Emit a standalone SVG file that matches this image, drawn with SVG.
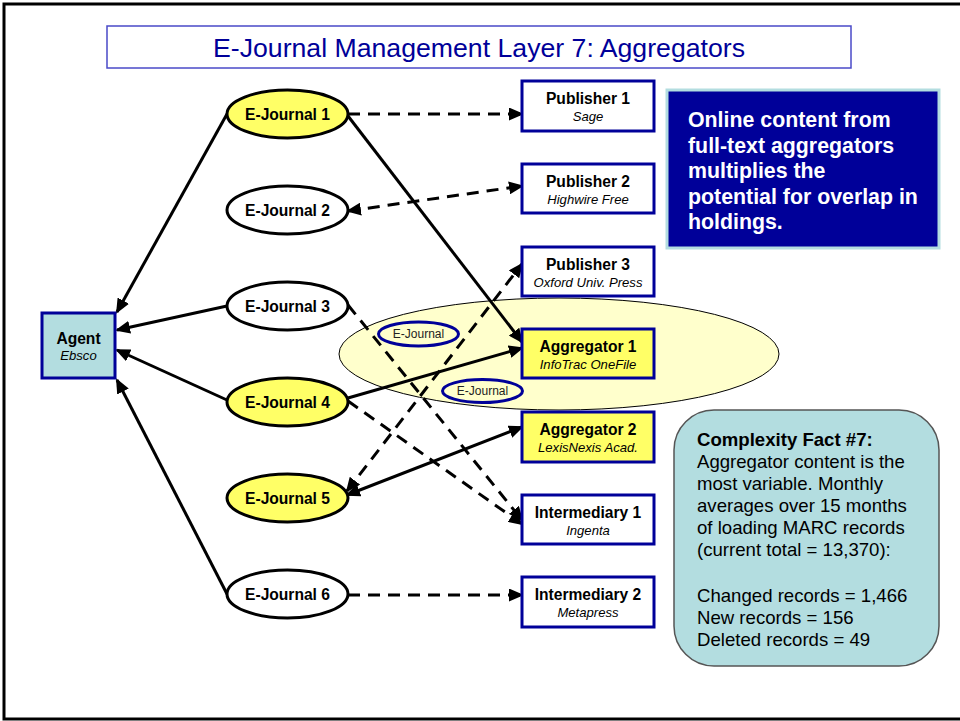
<svg xmlns="http://www.w3.org/2000/svg" width="960" height="721" viewBox="0 0 960 721">
<defs>
<marker id="ah" markerUnits="userSpaceOnUse" markerWidth="15" markerHeight="13" refX="13" refY="6.5" orient="auto-start-reverse" viewBox="0 0 15 13">
<path d="M0,0 L15,6.5 L0,13 z" fill="#000"/>
</marker>
<style>
text{font-family:"Liberation Sans",Arial,sans-serif;fill:#000}
.ej{stroke:#000;stroke-width:3}
.y{fill:#ffff66}
.w{fill:#fff}
.box{stroke:#000099;stroke-width:3}
.nt{font-weight:bold;font-size:15.6px;text-anchor:middle}
.st{font-style:italic;font-size:13.1px;text-anchor:middle}
.c{fill:none;stroke:#000;stroke-width:3}
.d{stroke-dasharray:12 8}
.sm{fill:#ffffcc;stroke:#000099;stroke-width:3}
.cf{font-size:18.6px}
.bt{font-size:21.33px;font-weight:bold;fill:#fff}
</style>
</defs>
<rect x="4" y="4" width="975" height="715" fill="#fff" stroke="#000" stroke-width="3"/>
<g id="title">
<rect x="107" y="26" width="744" height="42" fill="#fff" stroke="#4a4ac8" stroke-width="1.5"/>
<text x="479" y="57" font-size="26.67" text-anchor="middle" style="fill:#000099">E-Journal Management Layer 7: Aggregators</text>
</g>
<g id="highlight">
<ellipse cx="559" cy="354" rx="220" ry="56" fill="#ffffcc" stroke="#000" stroke-width="1"/>
<ellipse class="sm" cx="418.5" cy="334" rx="40" ry="12"/>
<text x="418.5" y="338" font-size="12" text-anchor="middle" style="fill:#222">E-Journal</text>
<ellipse class="sm" cx="482.5" cy="391" rx="40" ry="11.5"/>
<text x="482.5" y="395" font-size="12" text-anchor="middle" style="fill:#222">E-Journal</text>
</g>
<g id="connectors">
<line class="c" x1="227" y1="114" x2="117" y2="312" marker-end="url(#ah)"/>
<line class="c" x1="227" y1="306" x2="117" y2="330" marker-end="url(#ah)"/>
<line class="c" x1="227" y1="400" x2="117" y2="350" marker-end="url(#ah)"/>
<line class="c" x1="227" y1="594" x2="117" y2="380" marker-end="url(#ah)"/>
<line class="c d" x1="348" y1="114" x2="522" y2="114" marker-end="url(#ah)"/>
<line class="c d" x1="348" y1="211" x2="522" y2="186" marker-start="url(#ah)" marker-end="url(#ah)"/>
<line class="c" x1="348" y1="116" x2="522" y2="342" marker-end="url(#ah)"/>
<line class="c" x1="348" y1="398" x2="522" y2="348" marker-end="url(#ah)"/>
<line class="c d" x1="348" y1="305" x2="522" y2="520" marker-end="url(#ah)"/>
<line class="c d" x1="348" y1="401" x2="522" y2="524" marker-end="url(#ah)"/>
<line class="c d" x1="347" y1="491" x2="522" y2="264" marker-start="url(#ah)" marker-end="url(#ah)"/>
<line class="c" x1="347" y1="495" x2="522" y2="427" marker-start="url(#ah)" marker-end="url(#ah)"/>
<line class="c d" x1="348" y1="595" x2="522" y2="595" marker-end="url(#ah)"/>
</g>
<g id="agent">
<rect class="box" x="42" y="313" width="73" height="65" fill="#b3dde0"/>
<text class="nt" x="78.5" y="344">Agent</text>
<text class="st" x="78.5" y="360">Ebsco</text>
</g>
<g id="ej1"><ellipse class="ej y" cx="287.5" cy="114" rx="60.5" ry="24"/><text class="nt" x="287.5" y="120">E-Journal 1</text></g>
<g id="ej2"><ellipse class="ej w" cx="287.5" cy="210" rx="60.5" ry="24"/><text class="nt" x="287.5" y="216">E-Journal 2</text></g>
<g id="ej3"><ellipse class="ej w" cx="287.5" cy="306" rx="60.5" ry="24"/><text class="nt" x="287.5" y="312">E-Journal 3</text></g>
<g id="ej4"><ellipse class="ej y" cx="287.5" cy="402" rx="60.5" ry="24"/><text class="nt" x="287.5" y="408">E-Journal 4</text></g>
<g id="ej5"><ellipse class="ej y" cx="287.5" cy="498" rx="60.5" ry="24"/><text class="nt" x="287.5" y="504">E-Journal 5</text></g>
<g id="ej6"><ellipse class="ej w" cx="287.5" cy="594" rx="60.5" ry="24"/><text class="nt" x="287.5" y="600">E-Journal 6</text></g>
<g id="pub1"><rect class="box w" x="522" y="81" width="132" height="50"/><text class="nt" x="588" y="104">Publisher 1</text><text class="st" x="588" y="121">Sage</text></g>
<g id="pub2"><rect class="box w" x="522" y="164" width="132" height="49"/><text class="nt" x="588" y="187">Publisher 2</text><text class="st" x="588" y="204">Highwire Free</text></g>
<g id="pub3"><rect class="box w" x="522" y="247" width="132" height="49"/><text class="nt" x="588" y="270">Publisher 3</text><text class="st" x="588" y="287">Oxford Univ. Press</text></g>
<g id="agg1"><rect class="box y" x="522" y="329" width="132" height="49"/><text class="nt" x="588" y="352">Aggregator 1</text><text class="st" x="588" y="369">InfoTrac OneFile</text></g>
<g id="agg2"><rect class="box y" x="522" y="412" width="132" height="50"/><text class="nt" x="588" y="435">Aggregator 2</text><text class="st" x="588" y="452">LexisNexis Acad.</text></g>
<g id="int1"><rect class="box w" x="522" y="495" width="132" height="49"/><text class="nt" x="588" y="518">Intermediary 1</text><text class="st" x="588" y="535">Ingenta</text></g>
<g id="int2"><rect class="box w" x="522" y="577" width="132" height="50"/><text class="nt" x="588" y="600">Intermediary 2</text><text class="st" x="588" y="617">Metapress</text></g>
<g id="note">
<rect x="667" y="90" width="272" height="158" fill="#000099" stroke="#b3dde0" stroke-width="3"/>
<text class="bt" x="688" y="127">Online content from</text>
<text class="bt" x="688" y="152.6">full-text aggregators</text>
<text class="bt" x="688" y="178.2">multiplies the</text>
<text class="bt" x="688" y="203.8">potential for overlap in</text>
<text class="bt" x="688" y="229.4">holdings.</text>
</g>
<g id="fact">
<rect x="674" y="410" width="265" height="256" rx="40" ry="40" fill="#b3dde0" stroke="#555" stroke-width="1.5"/>
<text class="cf" x="697" y="445.5" font-weight="bold">Complexity Fact #7:</text>
<text class="cf" x="697" y="468">Aggregator content is the</text>
<text class="cf" x="697" y="490">most variable. Monthly</text>
<text class="cf" x="697" y="512">averages over 15 months</text>
<text class="cf" x="697" y="534">of loading MARC records</text>
<text class="cf" x="697" y="556">(current total = 13,370):</text>
<text class="cf" x="697" y="602">Changed records = 1,466</text>
<text class="cf" x="697" y="624">New records = 156</text>
<text class="cf" x="697" y="646">Deleted records = 49</text>
</g>
</svg>
